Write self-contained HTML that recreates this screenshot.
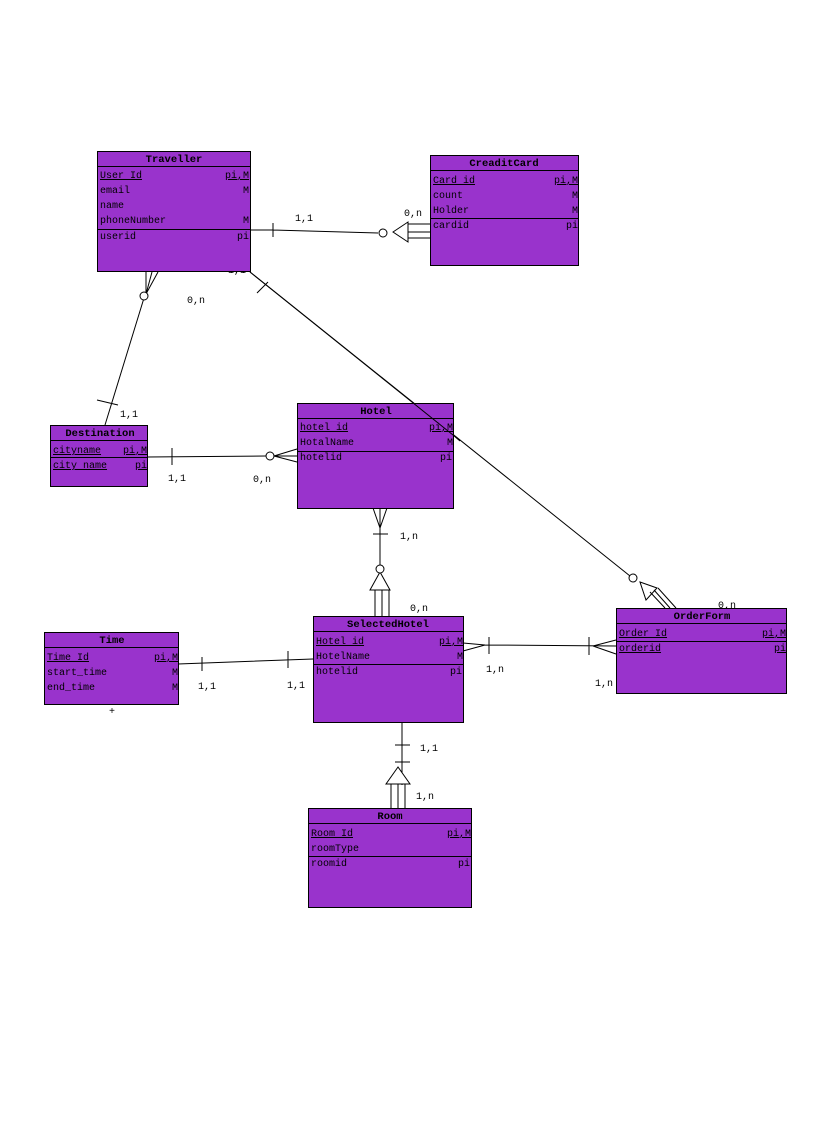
<!DOCTYPE html>
<html><head><meta charset="utf-8"><style>
body{margin:0;background:#fff}
svg{display:block}
text{font-family:"Liberation Mono",monospace;font-size:10px;fill:#000}
.t{font-weight:bold;font-size:10.5px}
.e{fill:#9933cc;stroke:#000;stroke-width:1}
.l{stroke:#000;stroke-width:1;fill:none}
.w{stroke:#000;stroke-width:1;fill:#fff}
</style></head><body>
<svg width="813" height="1142" viewBox="0 0 813 1142">
<!-- connectors -->
<g class="l">
<!-- Traveller - CreaditCard -->
<path d="M250,230 L273,230 M273,223 L273,237 M273,230 L378,233"/>
<path d="M393,232 L408,222 L408,242 Z" class="w"/>
<path d="M408,224 L430,224 M408,232 L430,232 M408,238 L430,238"/>
<!-- Traveller - Destination -->
<path d="M146,272 L146,294 M146,294 L152,272 M146,294 L158,272"/>
<path d="M144,298 L105,425 M97,400 L118,405"/>
<!-- Traveller - OrderForm -->
<path d="M250,272 L630,576 M257,293 L268,282"/>
<path d="M640,582 L657,588 L646,600 Z" class="w"/>
<path d="M650,592 L665,608 M654,590 L670,608 M658,588 L676,608"/>
<!-- Destination - Hotel -->
<path d="M147,457 L266,456 M172,448 L172,465 M274,456 L297,449 M274,456 L297,456 M274,456 L297,462"/>
<!-- Hotel - SelectedHotel -->
<path d="M373,508 L380,528 L387,508 M380,508 L380,528 M380,528 L380,565 M373,534 L388,534"/>
<path d="M380,572 L370,590 L390,590 Z" class="w"/>
<path d="M375,590 L375,616 M382,590 L382,616 M389,590 L389,616"/>
<!-- Time - SelectedHotel -->
<path d="M178,664 L313,659 M202,657 L202,671 M288,651 L288,668"/>
<!-- SelectedHotel - OrderForm -->
<path d="M463,643 L485,645 L463,651 M485,645 L616,646 M489,637 L489,654 M589,637 L589,655 M593,646 L616,640 M593,646 L616,654"/>
<!-- SelectedHotel - Room -->
<path d="M402,722 L402,785 M395,745 L410,745 M395,762 L410,762"/>
<path d="M398,767 L386,784 L410,784 Z" class="w"/>
<path d="M391,784 L391,808 M398,784 L398,808 M405,784 L405,808"/>
</g>
<circle cx="383" cy="233" r="4" class="w"/>
<circle cx="144" cy="296" r="4" class="w"/>
<circle cx="633" cy="578" r="4" class="w"/>
<circle cx="270" cy="456" r="4" class="w"/>
<circle cx="380" cy="569" r="4" class="w"/>
<!-- labels -->
<text x="295" y="221">1,1</text>
<text x="404" y="216">0,n</text>
<text x="228" y="273">1,1</text>
<text x="187" y="303">0,n</text>
<text x="120" y="417">1,1</text>
<text x="168" y="481">1,1</text>
<text x="253" y="482">0,n</text>
<text x="400" y="539">1,n</text>
<text x="410" y="611">0,n</text>
<text x="718" y="608">0,n</text>
<text x="198" y="689">1,1</text>
<text x="287" y="688">1,1</text>
<text x="486" y="672">1,n</text>
<text x="595" y="686">1,n</text>
<text x="420" y="751">1,1</text>
<text x="416" y="799">1,n</text>
<text x="109" y="714">+</text>
<!-- Traveller -->
<rect class="e" x="97.5" y="151.5" width="153" height="120"/>
<path class="l" d="M97,166.5H250M97,229.5H250"/>
<text class="t" x="174" y="162" text-anchor="middle">Traveller</text>
<text x="100" y="178" text-decoration="underline">User Id</text><text x="249" y="178" text-anchor="end" text-decoration="underline">pi,M</text>
<text x="100" y="193">email</text><text x="249" y="193" text-anchor="end">M</text>
<text x="100" y="208">name</text>
<text x="100" y="223">phoneNumber</text><text x="249" y="223" text-anchor="end">M</text>
<text x="100" y="239">userid</text><text x="249" y="239" text-anchor="end">pi</text>
<!-- CreaditCard -->
<rect class="e" x="430.5" y="155.5" width="148" height="110"/>
<path class="l" d="M430,170.5H578M430,218.5H578"/>
<text class="t" x="504" y="166" text-anchor="middle">CreaditCard</text>
<text x="433" y="183" text-decoration="underline">Card id</text><text x="578" y="183" text-anchor="end" text-decoration="underline">pi,M</text>
<text x="433" y="198">count</text><text x="578" y="198" text-anchor="end">M</text>
<text x="433" y="213">Holder</text><text x="578" y="213" text-anchor="end">M</text>
<text x="433" y="228">cardid</text><text x="578" y="228" text-anchor="end">pi</text>
<!-- Destination -->
<rect class="e" x="50.5" y="425.5" width="97" height="61"/>
<path class="l" d="M50,440.5H147M50,457.5H147"/>
<text class="t" x="100" y="436" text-anchor="middle">Destination</text>
<text x="53" y="453" text-decoration="underline">cityname</text><text x="147" y="453" text-anchor="end" text-decoration="underline">pi,M</text>
<text x="53" y="468" text-decoration="underline">city name</text><text x="147" y="468" text-anchor="end" text-decoration="underline">pi</text>
<!-- Hotel -->
<rect class="e" x="297.5" y="403.5" width="156" height="105"/>
<path class="l" d="M297,418.5H453M297,451.5H453"/>
<text class="t" x="376" y="414" text-anchor="middle">Hotel</text>
<text x="300" y="430" text-decoration="underline">hotel id</text><text x="453" y="430" text-anchor="end" text-decoration="underline">pi,M</text>
<text x="300" y="445">HotalName</text><text x="453" y="445" text-anchor="end">M</text>
<text x="300" y="460">hotelid</text><text x="452" y="460" text-anchor="end">pi</text>
<path class="l" d="M250,272 L453,435 M453,435 L460,441" />
<!-- Time -->
<rect class="e" x="44.5" y="632.5" width="134" height="72"/>
<path class="l" d="M44,647.5H178"/>
<text class="t" x="112" y="643" text-anchor="middle">Time</text>
<text x="47" y="660" text-decoration="underline">Time Id</text><text x="178" y="660" text-anchor="end" text-decoration="underline">pi,M</text>
<text x="47" y="675">start_time</text><text x="178" y="675" text-anchor="end">M</text>
<text x="47" y="690">end_time</text><text x="178" y="690" text-anchor="end">M</text>
<!-- SelectedHotel -->
<rect class="e" x="313.5" y="616.5" width="150" height="106"/>
<path class="l" d="M313,631.5H463M313,664.5H463"/>
<text class="t" x="388" y="627" text-anchor="middle">SelectedHotel</text>
<text x="316" y="644" text-decoration="underline">Hotel id</text><text x="463" y="644" text-anchor="end" text-decoration="underline">pi,M</text>
<text x="316" y="659">HotelName</text><text x="463" y="659" text-anchor="end">M</text>
<text x="316" y="674">hotelid</text><text x="462" y="674" text-anchor="end">pi</text>
<!-- OrderForm -->
<rect class="e" x="616.5" y="608.5" width="170" height="85"/>
<path class="l" d="M616,623.5H786M616,641.5H786"/>
<text class="t" x="702" y="619" text-anchor="middle">OrderForm</text>
<text x="619" y="636" text-decoration="underline">Order Id</text><text x="786" y="636" text-anchor="end" text-decoration="underline">pi,M</text>
<text x="619" y="651" text-decoration="underline">orderid</text><text x="786" y="651" text-anchor="end" text-decoration="underline">pi</text>
<!-- Room -->
<rect class="e" x="308.5" y="808.5" width="163" height="99"/>
<path class="l" d="M308,823.5H471M308,856.5H471"/>
<text class="t" x="390" y="819" text-anchor="middle">Room</text>
<text x="311" y="836" text-decoration="underline">Room Id</text><text x="471" y="836" text-anchor="end" text-decoration="underline">pi,M</text>
<text x="311" y="851">roomType</text>
<text x="311" y="866">roomid</text><text x="470" y="866" text-anchor="end">pi</text>
</svg>
</body></html>
